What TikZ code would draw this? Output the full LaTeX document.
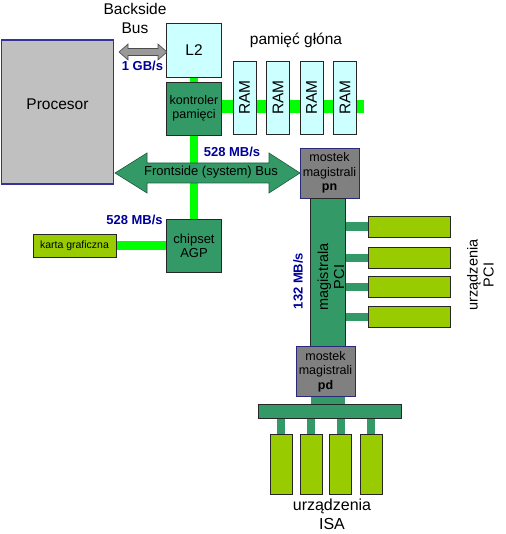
\documentclass[tikz,border=0pt]{standalone}
\usepackage{fontspec}
\setmainfont{Liberation Sans}
\usetikzlibrary{positioning,backgrounds}

\definecolor{morski}{HTML}{339966}
\definecolor{limonka}{HTML}{00FF00}
\definecolor{blekit}{HTML}{CCFFFF}
\definecolor{oliwka}{HTML}{99CC00}
\definecolor{szary}{HTML}{C0C0C0}
\definecolor{ciemnyszary}{HTML}{808080}
\definecolor{granat}{HTML}{333399}
\definecolor{predkoscniebieska}{HTML}{000099}

\begin{document}
\begin{tikzpicture}[x=1pt, y=-1pt]
        \tikzstyle{box} = [rectangle, draw=black!85, line width=0.7pt, inner sep=0pt, align=center]
        \tikzstyle{cache} = [box, fill=blekit, font=\fontsize{15.5}{18}\selectfont]
        \tikzstyle{sbox} = [box, fill=morski, font=\fontsize{13}{14}\selectfont, minimum width=55pt, minimum height=53pt]
        \tikzstyle{most} = [box, fill=ciemnyszary, draw=granat!80!black, font=\fontsize{12.5}{14.5}\selectfont, minimum width=59pt, minimum height=50pt]
        \tikzstyle{dev} = [box, fill=oliwka]
        \tikzstyle{sbus} = [box, fill=morski]
        \tikzstyle{etykieta} = [align=center, inner sep=0pt, font=\fontsize{15.5}{19}\selectfont]
        \tikzstyle{predkosc} = [inner sep=0pt, text=predkoscniebieska, font=\fontsize{13}{15}\selectfont\bfseries]
        \tikzstyle{szyna} = [draw=limonka, line width=8.5pt]
        \tikzstyle{lacze} = [draw=morski, line width=8pt]

        \useasboundingbox (0,0) rectangle (505,534);

        % procesor i pamiec
        \node [box, fill=szary, draw=granat, line width=1.6pt, minimum width=112pt, minimum height=144pt, text depth=15pt, font=\fontsize{15.5}{18}\selectfont] (procesor) at (57.5,112) {Procesor};
        \node [cache, minimum width=55pt, minimum height=54pt] (l2) at (194,50) {L2};
        \node [sbox, font=\fontsize{12.5}{13.5}\selectfont] (kontroler) at (194,108.5) {kontroler\\pamięci};
        \foreach \i in {0,...,3}
            \node [cache, rotate=90, minimum width=73pt, minimum height=23pt] (ram\i) at ({244.5+33.5*\i},97.5) {RAM};
        \coordinate (ramend) at (364,106.5);
        \node [etykieta] (pamiec) at (296,40) {pamięć głóna};

        % AGP
        \node [sbox] (agp) at (194,245.5) {chipset\\AGP};
        \node [dev, minimum width=83pt, minimum height=23pt, font=\fontsize{10.5}{12}\selectfont] (karta) at (74.5,245.5) {karta graficzna};

        % PCI
        \node [most] (pn) at (329.5,173) {mostek\\magistrali\\\textbf{pn}};
        \node [sbus, minimum width=35pt, minimum height=148pt] (pci) at (327.5,272) {};
        \node [rotate=90, align=center, inner sep=0pt, font=\fontsize{14.5}{16}\selectfont] (pcitext) at (331,277) {magistrala\\PCI};
        \foreach \y [count=\i] in {226.5,257.5,286.5,316.5}
            \node [dev, minimum width=82pt, minimum height=21pt] (pcidev\i) at (409,\y) {};
        \node [etykieta, rotate=90, font=\fontsize{14.5}{16}\selectfont] (pciurz) at (480.5,275) {urządzenia\\PCI};

        % ISA
        \node [most] (pd) at (325.5,371.5) {mostek\\magistrali\\\textbf{pd}};
        \node [sbus, minimum width=143pt, minimum height=14pt] (isa) at (329.5,411) {};
        \foreach \x [count=\i] in {281,311,340.5,371}
            \node [dev, minimum width=22pt, minimum height=60pt] (isadev\i) at (\x,464) {};
        \node [etykieta, font=\fontsize{16}{18.5}\selectfont] (isaurz) at (332,514.5) {urządzenia\\ISA};

        % szyny
        \begin{scope}[on background layer]
            \draw [szyna] (l2) -- (agp);
            \draw [szyna, line width=12.5pt] (kontroler.east |- ramend) -- (ramend);
            \draw [szyna] (karta) -- (agp);
            \draw [draw=morski, line width=34pt] (pci.south) -- (pci.south |- isa.north);
            \foreach \i in {1,...,4} {
                \draw [lacze] (pcidev\i.west) -- (pci.east |- pcidev\i.west);
                \draw [lacze] (isa.south -| isadev\i) -- (isadev\i.north);
            }
        \end{scope}

        % Backside Bus
        \draw [fill=black!40, draw=black!70, line width=0.6pt] (119,52) -- (128,44) -- (128,48.5) -- (158,48.5) -- (158,44) -- (167,52) -- (158,60) -- (158,55.5) -- (128,55.5) -- (128,60) -- cycle;
        \node [etykieta] (bsbus) at (135,18) {Backside\\Bus};

        % Frontside Bus
        \draw [fill=morski, draw=morski!60!black, line width=0.6pt] (115,173) -- (147,153) -- (147,163) -- (269,163) -- (269,153) -- (300,173) -- (269,193) -- (269,183) -- (147,183) -- (147,193) -- cycle;
        \node [inner sep=0pt, font=\fontsize{13}{15}\selectfont] (fsb) at (211,172) {Frontside (system) Bus};

        % predkosci
        \node [predkosc] (v1) at (142.5,66) {1 GB/s};
        \node [predkosc] (v2) at (232,152) {528 MB/s};
        \node [predkosc] (v3) at (134.5,220) {528 MB/s};
        \node [predkosc, rotate=90] (v4) at (298,281) {132 MB/s};
\end{tikzpicture}
\end{document}
